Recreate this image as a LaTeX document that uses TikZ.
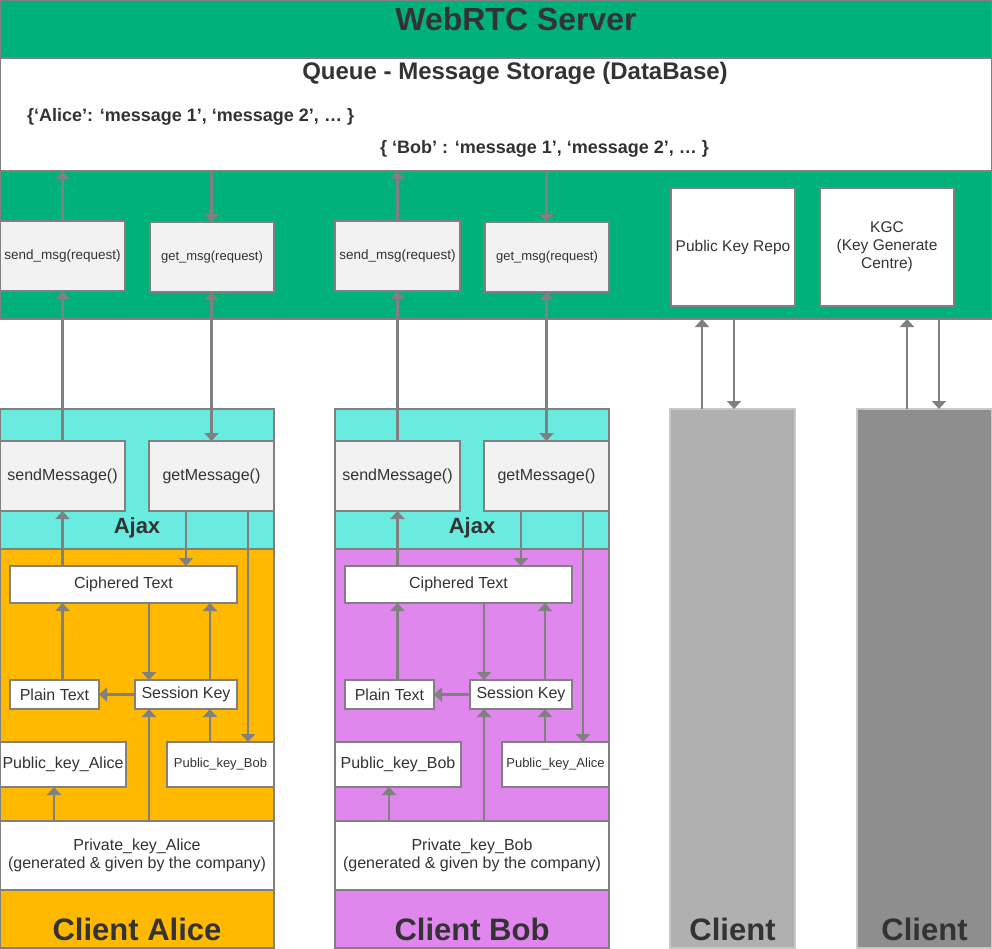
\documentclass[tikz,border=0pt]{standalone}
\usepackage{fontspec}
\setmainfont{Liberation Sans}
\usetikzlibrary{arrows.meta}
\definecolor{srvgreen}{RGB}{0,177,122}
\definecolor{ajaxcyan}{RGB}{106,235,224}
\definecolor{aliceorange}{RGB}{255,185,0}
\definecolor{bobpurple}{RGB}{223,135,237}
\definecolor{fnfill}{RGB}{242,242,242}
\definecolor{edgegray}{RGB}{128,128,128}
\definecolor{txtdark}{RGB}{51,51,51}
\definecolor{clientA}{RGB}{176,176,176}
\definecolor{clientB}{RGB}{142,142,142}
\definecolor{clientedge}{RGB}{200,200,200}
\tikzset{
  panel/.style={draw=edgegray, line width=1.4pt, inner sep=0pt, outer sep=0pt, anchor=north west},
  fnbox/.style={panel, fill=fnfill, text=txtdark, font=\fontsize{16}{18}\selectfont},
  wbox/.style={panel, fill=white, text=txtdark, font=\fontsize{16}{18}\selectfont, align=center},
  smallfn/.style={font=\fontsize{13.5}{16}\selectfont},
  ttl/.style={text=txtdark, inner sep=0pt, font=\fontsize{31}{36}\selectfont\bfseries},
  ajaxlbl/.style={text=txtdark, inner sep=0pt, font=\fontsize{22}{26}\selectfont\bfseries},
  arr/.style={draw=edgegray, line width=2.2pt, -{Triangle[width=14pt,length=8pt]}},
  arrb/.style={draw=edgegray, line width=2.2pt, {Triangle[width=14pt,length=8pt]}-{Triangle[width=14pt,length=8pt]}},
  clientbox/.style={draw=clientedge, line width=1.6pt, inner sep=0pt, outer sep=0pt, anchor=north west}
}
% #1 prefix, #2 x offset, #3 body colour, #4 left public key, #5 right public key, #6 private key, #7 title
\newcommand{\clientcol}[7]{%
\begin{scope}[xshift=#2pt]
  \node[panel, fill=ajaxcyan, minimum width=274pt, minimum height=140pt] (#1ajax) at (0,409) {};
  \node[panel, fill=#3, minimum width=274pt, minimum height=399pt] (#1body) at (0,549) {};
  \node[ajaxlbl] (#1ajaxlbl) at (137,528) {Ajax};
  \node[fnbox, minimum width=125pt, minimum height=70pt] (#1send) at (0,441) {sendMessage()};
  \node[fnbox, minimum width=125pt, minimum height=70pt] (#1get) at (149,441) {getMessage()};
  \node[wbox, minimum width=227pt, minimum height=37pt] (#1cipher) at (10,566) {Ciphered Text};
  \node[wbox, minimum width=89pt, minimum height=29pt] (#1plain) at (10,680) {Plain Text};
  \node[wbox, minimum width=102pt, minimum height=29pt] (#1sess) at (135,680) {Session Key};
  \node[wbox, minimum width=126pt, minimum height=45pt] (#1pubL) at (0,742) {#4};
  \node[wbox, minimum width=107pt, minimum height=45pt, font=\fontsize{13}{15}\selectfont] (#1pubR) at (167,742) {#5};
  \node[wbox, minimum width=274pt, minimum height=69pt] (#1priv) at (0,821) {#6\\(generated \& given by the company)};
  \node[ttl] (#1title) at (137,929) {#7};
  \node[fnbox, smallfn, minimum width=125pt, minimum height=70pt] (#1smsg) at (0,221) {send\_msg(request)};
  \node[fnbox, smallfn, font=\fontsize{13}{15}\selectfont, minimum width=124pt, minimum height=70pt] (#1gmsg) at (150,222) {get\_msg(request)};
  \coordinate (#1xa) at (62.5,0);
  \coordinate (#1xb) at (186,0);
  \coordinate (#1xc) at (248,0);
  \coordinate (#1xd) at (149,0);
  \coordinate (#1xe) at (210,0);
  \coordinate (#1xf) at (54,0);
  \coordinate (#1xg) at (211.5,0);
  \draw[arr] (#1smsg.north) -- (queue.south -| #1smsg.north);
  \draw[arr] (queue.south -| #1xg) -- (#1gmsg.north -| #1xg);
  \draw[arr] (#1send.north) -- (#1smsg.south);
  \draw[arrb] (#1gmsg.south -| #1xg) -- (#1get.north -| #1xg);
  \draw[arr] (#1get.south -| #1xb) -- (#1cipher.north -| #1xb);
  \draw[arr] (#1cipher.north -| #1xa) -- (#1send.south -| #1xa);
  \draw[arr] (#1get.south -| #1xc) -- (#1pubR.north -| #1xc);
  \draw[arr] (#1plain.north -| #1xa) -- (#1cipher.south -| #1xa);
  \draw[arr] (#1cipher.south -| #1xd) -- (#1sess.north -| #1xd);
  \draw[arr] (#1sess.north -| #1xe) -- (#1cipher.south -| #1xe);
  \draw[arr] (#1sess.west) -- (#1plain.east);
  \draw[arr] (#1pubR.north -| #1xe) -- (#1sess.south -| #1xe);
  \draw[arr] (#1priv.north -| #1xd) -- (#1sess.south -| #1xd);
  \draw[arr] (#1priv.north -| #1xf) -- (#1pubL.south -| #1xf);
\end{scope}}
\begin{document}
\begin{tikzpicture}[x=1pt,y=-1pt]
\useasboundingbox (0,0) rectangle (992,948);
% server
\node[panel, fill=srvgreen, minimum width=992pt, minimum height=319pt] (server) at (0,0) {};
\node[text=txtdark, inner sep=0pt, font=\fontsize{32}{36}\selectfont\bfseries] (srvtitle) at (516,19) {WebRTC Server};
\node[panel, fill=white, minimum width=992pt, minimum height=113pt] (queue) at (0,58) {};
\node[text=txtdark, inner sep=0pt, font=\fontsize{24}{28}\selectfont\bfseries] (qtitle) at (515,73) {Queue - Message Storage (DataBase)};
\node[text=txtdark, inner sep=0pt, anchor=west, font=\fontsize{18}{22}\selectfont\bfseries] (qalice) at (27,117) {\{‘Alice’: ‘message 1’, ‘message 2’, … \}};
\node[text=txtdark, inner sep=0pt, anchor=west, font=\fontsize{18}{22}\selectfont\bfseries] (qbob) at (380,149) {\{ ‘Bob’ : ‘message 1’, ‘message 2’, … \}};
\node[wbox, minimum width=124pt, minimum height=118pt, font=\fontsize{15.5}{18}\selectfont] (repo) at (671,188) {Public Key Repo};
\node[wbox, minimum width=134pt, minimum height=118pt, font=\fontsize{15.5}{18}\selectfont] (kgc) at (820,188) {KGC\\(Key Generate\\Centre)};
% clients
\clientcol{A}{0}{aliceorange}{Public\_key\_Alice}{Public\_key\_Bob}{Private\_key\_Alice}{Client Alice}
\clientcol{B}{335}{bobpurple}{Public\_key\_Bob}{Public\_key\_Alice}{Private\_key\_Bob}{Client Bob}
\node[clientbox, fill=clientA, minimum width=125pt, minimum height=539pt] (cl1) at (670,409) {};
\node[clientbox, fill=clientB, minimum width=135pt, minimum height=539pt] (cl2) at (857,409) {};
\node[ttl] (cl1title) at (732.5,929) {Client};
\node[ttl] (cl2title) at (924.5,929) {Client};
\coordinate (c1u) at (702,0);
\coordinate (c1d) at (734,0);
\coordinate (c2u) at (907,0);
\coordinate (c2d) at (939,0);
\draw[arr] (cl1.north -| c1u) -- (server.south -| c1u);
\draw[arr] (server.south -| c1d) -- (cl1.north -| c1d);
\draw[arr] (cl2.north -| c2u) -- (server.south -| c2u);
\draw[arr] (server.south -| c2d) -- (cl2.north -| c2d);
\end{tikzpicture}
\end{document}
